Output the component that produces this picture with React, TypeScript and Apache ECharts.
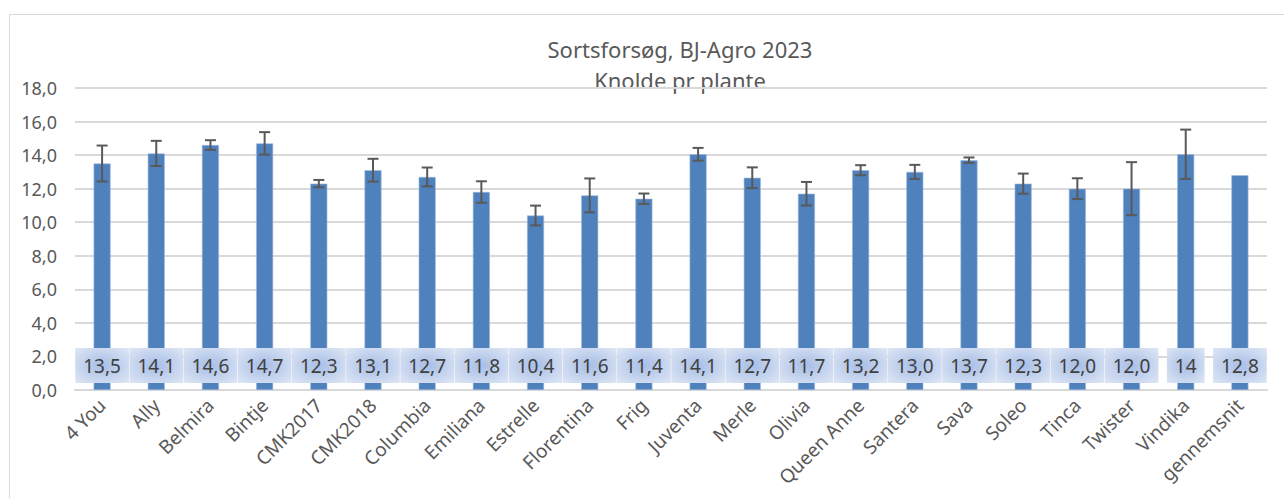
import React, { useEffect, useRef } from 'react';
import * as echarts from 'echarts';

const titleLines = ['Sortsforsøg, BJ-Agro 2023', 'Knolde pr plante'];

const categories = [
  '4 You', 'Ally', 'Belmira', 'Bintje', 'CMK2017', 'CMK2018', 'Columbia', 'Emiliana',
  'Estrelle', 'Florentina', 'Frig', 'Juventa', 'Merle', 'Olivia', 'Queen Anne', 'Santera',
  'Sava', 'Soleo', 'Tinca', 'Twister', 'Vindika', 'gennemsnit',
];

const values = [
  13.5, 14.1, 14.6, 14.7, 12.3, 13.1, 12.7, 11.8, 10.4, 11.6, 11.4, 14.05,
  12.65, 11.7, 13.1, 13.0, 13.7, 12.3, 12.0, 12.0, 14.05, 12.8,
];

const valueLabels = [
  '13,5', '14,1', '14,6', '14,7', '12,3', '13,1', '12,7', '11,8', '10,4', '11,6', '11,4',
  '14,1', '12,7', '11,7', '13,2', '13,0', '13,7', '12,3', '12,0', '12,0', '14', '12,8',
];

// half-length of each error bar (0 = none)
const errors = [
  1.07, 0.75, 0.29, 0.67, 0.22, 0.68, 0.56, 0.64, 0.59, 1.01, 0.31, 0.38,
  0.62, 0.7, 0.3, 0.42, 0.16, 0.6, 0.62, 1.58, 1.47, 0,
];

const yMin = 0;
const yMax = 18;
const yStep = 2;

const FONT = '"Noto Sans", "Open Sans", sans-serif';
const GREY = '#595959';

export default function App() {
  const ref = useRef<HTMLDivElement>(null);

  useEffect(() => {
    const chart = echarts.init(ref.current!, null, { renderer: 'svg' });

    const errData = categories
      .map((_, i) => (errors[i] > 0 ? [i, values[i] - errors[i], values[i] + errors[i]] : null))
      .filter((d) => d !== null);

    const labelBg = new echarts.graphic.RadialGradient(0.5, 0.5, 0.75, [
      { offset: 0, color: '#a7bee6' },
      { offset: 1, color: '#e2e9f6' },
    ]);

    chart.setOption({
      animation: false,
      textStyle: { fontFamily: FONT },
      graphic: [
        {
          type: 'rect',
          shape: { x: 9.5, y: 14.5, width: 1400, height: 600 },
          style: { fill: 'none', stroke: '#d9d9d9', lineWidth: 1 },
          silent: true,
        },
        {
          type: 'text',
          x: 680,
          y: 49,
          style: {
            text: titleLines[0],
            fill: GREY,
            font: `22px ${FONT}`,
            textAlign: 'center',
            textVerticalAlign: 'middle',
          },
        },
        {
          type: 'text',
          x: 680,
          y: 80,
          style: {
            text: titleLines[1],
            fill: GREY,
            font: `22px ${FONT}`,
            textAlign: 'center',
            textVerticalAlign: 'middle',
          },
        },
      ],
      grid: { left: 75, right: 17, top: 88, bottom: 108, containLabel: false, outerBoundsMode: 'none' },
      xAxis: {
        type: 'category',
        data: categories,
        axisLine: { lineStyle: { color: '#d9d9d9', width: 2 } },
        axisTick: { show: false },
        axisLabel: {
          rotate: 45,
          interval: 0,
          color: GREY,
          fontSize: 19,
          fontFamily: FONT,
          margin: 12,
          hideOverlap: false,
          overflow: 'none',
          width: 200,
        },
      },
      yAxis: {
        type: 'value',
        min: yMin,
        max: yMax,
        interval: yStep,
        axisLine: { show: false },
        axisTick: { show: false },
        splitLine: { lineStyle: { color: '#d9d9d9', width: 2 } },
        axisLabel: {
          color: GREY,
          fontSize: 18,
          fontFamily: FONT,
          margin: 18,
          formatter: (v: number) => v.toFixed(1).replace('.', ','),
        },
      },
      series: [
        {
          type: 'bar',
          data: values,
          barWidth: 17,
          itemStyle: { color: '#4f81bd', borderColor: '#9fb8de', borderWidth: 0.6 },
          label: {
            show: true,
            position: 'insideBottom',
            distance: 7,
            formatter: (p: any) => valueLabels[p.dataIndex],
            color: '#404040',
            fontSize: 19,
            fontFamily: FONT,
            lineHeight: 19,
            padding: [8, 8],
            backgroundColor: labelBg,
          },
          z: 2,
        },
        {
          type: 'custom',
          data: errData,
          encode: { x: 0, y: [1, 2] },
          z: 3,
          renderItem: (params: any, api: any) => {
            const x = api.value(0);
            const lo = api.value(1);
            const hi = api.value(2);
            const pHi = api.coord([x, hi]);
            const pLo = api.coord([x, lo]);
            const hw = 5.5;
            const style = { stroke: GREY, lineWidth: 2 };
            return {
              type: 'group',
              children: [
                { type: 'line', shape: { x1: pHi[0], y1: pHi[1], x2: pLo[0], y2: pLo[1] }, style },
                { type: 'line', shape: { x1: pHi[0] - hw, y1: pHi[1], x2: pHi[0] + hw, y2: pHi[1] }, style },
                { type: 'line', shape: { x1: pLo[0] - hw, y1: pLo[1], x2: pLo[0] + hw, y2: pLo[1] }, style },
              ],
            };
          },
        },
      ],
    });

    return () => chart.dispose();
  }, []);

  return (
    <div
      ref={ref}
      style={{ position: 'fixed', left: 0, top: 0, width: 1284, height: 498, background: '#fff' }}
    />
  );
}
